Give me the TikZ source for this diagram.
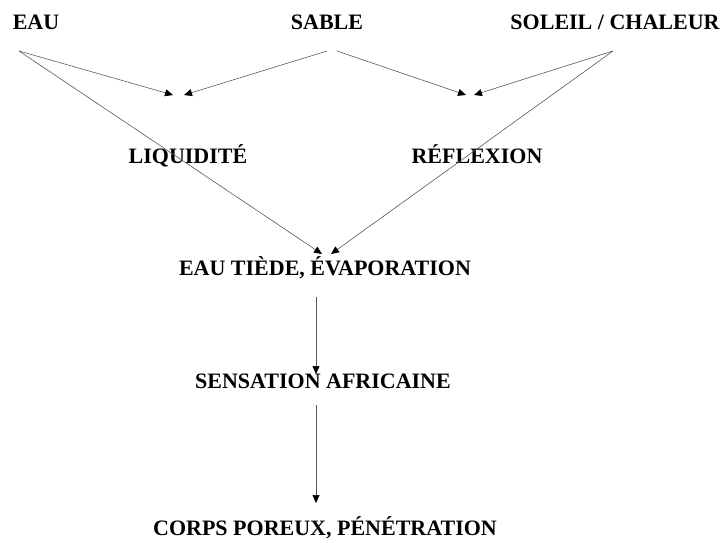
\documentclass[tikz,border=0pt]{standalone}
\usepackage{fontspec}
\setmainfont{Liberation Serif}
\usetikzlibrary{arrows.meta}
\begin{document}
\begin{tikzpicture}[x=1pt,y=-1pt,
  lbl/.style={inner sep=0pt,anchor=base,font=\fontsize{22}{26}\selectfont\bfseries},
  conn/.style={draw=black!65,line width=0.6pt,-{Triangle[length=8pt,width=7pt,fill=black,color=black]}}]
\useasboundingbox (0,0) rectangle (720,542);
% labels
\node[lbl] (eau) at (36,29) {EAU};
\node[lbl] (sable) at (327,29) {SABLE};
\node[lbl] (soleil) at (615,29) {SOLEIL / CHALEUR};
\node[lbl] (liq) at (188,163) {LIQUIDITÉ};
\node[lbl] (refl) at (477,163) {RÉFLEXION};
\node[lbl] (tiede) at (325,275) {EAU TIÈDE, ÉVAPORATION};
\node[lbl] (sens) at (323,388) {SENSATION AFRICAINE};
\node[lbl] (corps) at (325,535) {CORPS POREUX, PÉNÉTRATION};
% connector ends
\coordinate (eauA) at (19,51);
\coordinate (sabA) at (327,51);
\coordinate (sabB) at (337,51);
\coordinate (solA) at (613,51);
\coordinate (liqL) at (173,95);
\coordinate (liqR) at (184,95);
\coordinate (refL) at (466,95);
\coordinate (refR) at (474,95);
\coordinate (tieL) at (322,254);
\coordinate (tieR) at (331,254);
\coordinate (tieB) at (316,297);
\coordinate (sensT) at (316,374);
\coordinate (sensB) at (316,405);
\coordinate (corpsT) at (316,503);
% connectors
\draw[conn] (eauA) -- (liqL);
\draw[conn] (sabA) -- (liqR);
\draw[conn] (sabB) -- (refL);
\draw[conn] (solA) -- (refR);
\draw[conn] (eauA) -- (tieL);
\draw[conn] (solA) -- (tieR);
\draw[conn] (tieB) -- (sensT);
\draw[conn] (sensB) -- (corpsT);
\end{tikzpicture}
\end{document}
